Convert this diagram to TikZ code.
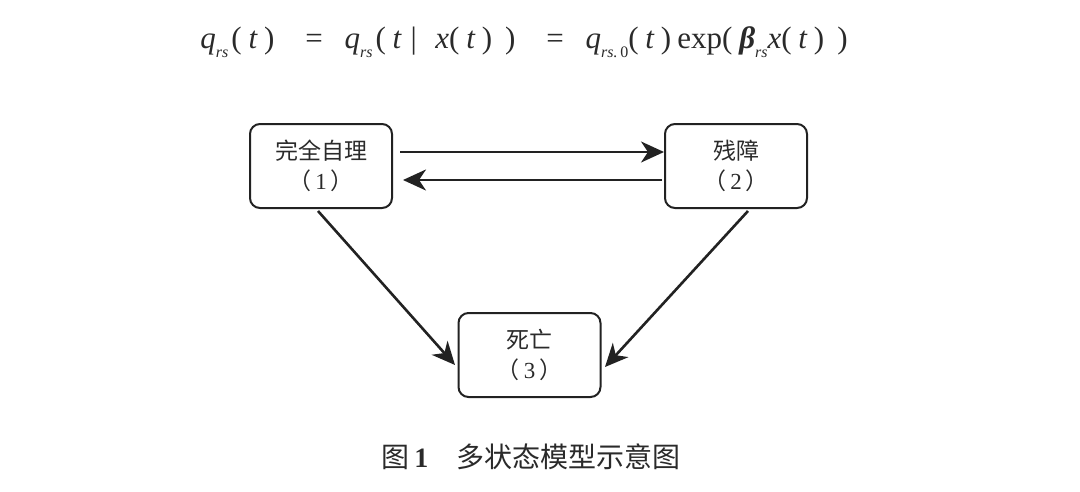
\documentclass[tikz,border=0pt]{standalone}
\usepackage{fontspec}
\newfontfamily\cjk{Noto Sans CJK SC}
\newfontfamily\serifnum{Liberation Serif}
\newcommand\lowsub[1]{\raisebox{-0.28em}{\fontsize{16}{17}\selectfont\itshape #1}}
\newcommand\pa[1]{\upshape(\hspace{0.22em}#1\hspace{0.22em}\upshape)}
\usetikzlibrary{arrows.meta}
\definecolor{ink}{HTML}{222222}
\definecolor{txt}{HTML}{2a2a2a}
\begin{document}
\begin{tikzpicture}[x=1pt,y=-1pt,
  state/.style={draw=ink,line width=2pt,rounded corners=10pt,minimum width=142pt,minimum height=84pt,align=center,text=txt,font=\fontsize{23}{30}\selectfont\cjk,inner sep=0pt},
  conn/.style={draw=ink,line width=2.6pt,-{Stealth[length=23pt,width=21pt,inset=7pt]}}]
\useasboundingbox (0,0) rectangle (1080,491);
\node[text=txt,inner sep=0pt,font=\fontsize{31}{34}\selectfont\serifnum] (eq) at (524,42) {%
\itshape q\lowsub{rs}\hspace{0.1em}\pa{\itshape t}\hspace{1.0em}\upshape=\hspace{0.7em}\itshape q\lowsub{rs}\hspace{0.1em}\pa{\itshape t\hspace{0.3em}\upshape|\hspace{0.6em}\itshape x\pa{\itshape t}\hspace{0.2em}}\hspace{1.0em}\upshape=\hspace{0.7em}\itshape q\lowsub{rs.\,\upshape 0}\pa{\itshape t}\hspace{0.2em}\upshape exp\pa{\bfseries\itshape β\mdseries\lowsub{rs}\itshape x\pa{\itshape t}\hspace{0.2em}}};
\node[state] (s1) at (321,166) {完全自理\\（\,{\serifnum 1}\,）};
\node[state] (s2) at (736,166) {残障\\（\,{\serifnum 2}\,）};
\node[state] (s3) at (529.5,355) {死亡\\（\,{\serifnum 3}\,）};
\coordinate (a1) at (400,152);
\coordinate (a2) at (664,152);
\coordinate (b1) at (662,180);
\coordinate (b2) at (403,180);
\draw[conn] (a1) -- (a2);
\draw[conn] (b1) -- (b2);
\coordinate (c1) at (318,211);
\coordinate (c2) at (455,365);
\coordinate (d1) at (748,211);
\coordinate (d2) at (605,367);
\draw[conn] (c1) -- (c2);
\draw[conn] (d1) -- (d2);
\node[text=txt,font=\fontsize{28}{30}\selectfont\cjk] (cap) at (531,457) {图\,{\serifnum\bfseries 1}\hspace{28pt}多状态模型示意图};
\end{tikzpicture}
\end{document}
